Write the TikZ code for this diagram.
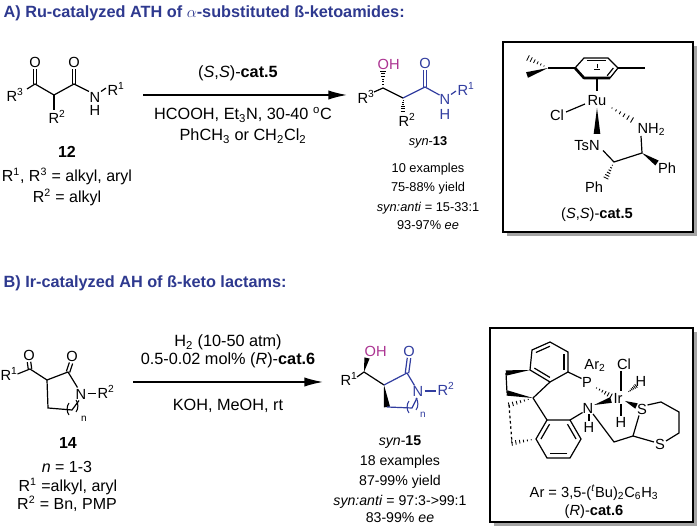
\documentclass[tikz,border=0pt]{standalone}
\usepackage{fontspec}
\setmainfont{Liberation Sans}
\usetikzlibrary{calc,arrows.meta}
\definecolor{ttl}{RGB}{46,57,143}
\definecolor{bl}{RGB}{50,62,160}
\definecolor{mg}{RGB}{172,52,146}
\definecolor{shd}{RGB}{165,165,165}
\newcommand\bw[3][2pt]{\fill (#2) -- ($(#3)!#1!90:(#2)$) -- ($(#3)!#1!-90:(#2)$) -- cycle;}
\newcommand\hw[3][2pt]{\foreach \q in {0.2,0.36,0.52,0.68,0.84,1}{\draw[line width=0.65pt] ($(#2)!\q!(#3)!{\q*#1}!90:(#2)$) -- ($(#2)!\q!(#3)!{\q*#1}!-90:(#2)$);}}
\newcommand\db[3][1.3pt]{\draw ($(#2)!#1!90:(#3)$) -- ($(#3)!#1!-90:(#2)$); \draw ($(#2)!#1!-90:(#3)$) -- ($(#3)!#1!90:(#2)$);}
\newcommand\inl[3]{\draw ($(#1)!0.22!(#3)$) -- ($(#2)!0.22!(#3)$);}
\begin{document}
\begin{tikzpicture}[x=0.75pt,y=-0.75pt,line width=0.9pt,
 every node/.style={inner sep=0pt,text height=7.9pt,text depth=0pt,font=\fontsize{11}{13}\selectfont},
 ttlst/.style={anchor=west,text=ttl,font=\fontsize{12.2}{14}\selectfont\bfseries,text height=8.7pt},
 cond/.style={font=\fontsize{12.2}{14}\selectfont,text height=8.7pt},
 lab/.style={font=\fontsize{12}{14}\selectfont,text height=8.6pt},
 bfst/.style={font=\fontsize{12}{14}\selectfont\bfseries,text height=8.6pt},
 yA/.style={font=\fontsize{9.6}{11}\selectfont,text height=6.9pt},
 yB/.style={font=\fontsize{10.6}{12}\selectfont,text height=7.6pt},
 subn/.style={font=\fontsize{7.5}{9}\selectfont,text height=5pt},
 arr/.style={line width=1.1pt,-{Latex[length=14pt,width=7pt]}},
 boxst/.style={draw,fill=white,line width=1pt},
 shadow/.style={fill=shd,draw=none}]
\useasboundingbox (0,0) rectangle (700,530);
\fill[white] (0,0) rectangle (700,530);
% titles
\node[ttlst] (tA) at (3,12) {A) Ru-catalyzed ATH of \textit{$\alpha$}-substituted ß-ketoamides:};
\node[ttlst] (tB) at (3,282) {B) Ir-catalyzed AH of ß-keto lactams:};
% 12
\coordinate (a1) at (35,84); \coordinate (a2) at (54,95); \coordinate (a3) at (74,84);
\node (a12O1) at (35,62) {O};
\node (a12O2) at (74,62) {O};
\node (a12R3) at (15,96) {R\textsuperscript{3}};
\node (a12N) at (95,97) {N};
\node (a12H) at (95,110.5) {H};
\node[anchor=west] (a12R1) at (107,90) {R\textsuperscript{1}};
\node (a12R2) at (57,118) {R\textsuperscript{2}};
\draw (27,89) -- (a1) -- (a2) -- (a3) -- (89,91.5);
\draw (101,91.5) -- (106,88);
\draw (a2) -- (54,110);
\db{a1}{35,69}
\db{a3}{74,69}
\node[bfst] (n12) at (67,152) {12};
\node[lab] (n12a) at (67,176) {R\textsuperscript{1}, R\textsuperscript{3} = alkyl, aryl};
\node[lab] (n12b) at (67,197) {R\textsuperscript{2} = alkyl};
% arrow A
\coordinate (arA1) at (143,95); \coordinate (arA2) at (347,95);
\draw[arr] (arA1) -- (arA2);
\node[cond] (cA1) at (238,72) {(\textit{S},\textit{S})-\textbf{cat.5}};
\node[cond] (cA2) at (243,114) {HCOOH, Et\textsubscript{3}N, 30-40 \textsuperscript{o}C};
\node[cond] (cA3) at (243,135) {PhCH\textsubscript{3} or CH\textsubscript{2}Cl\textsubscript{2}};
% 13
\coordinate (b1) at (383,88); \coordinate (b2) at (403,98); \coordinate (b3) at (425,87);
\node[anchor=west] (p13R3) at (357,98) {R\textsuperscript{3}};
\draw (374,92) -- (b1) -- (b2);
\hw[2pt]{b1}{383,71}
\hw[1.8pt]{b2}{403,111}
\node[anchor=west,text=mg] (p13OH) at (377,64) {OH};
\node[anchor=west] (p13R2) at (398,121) {R\textsuperscript{2}};
\begin{scope}[color=bl]
\draw (b2) -- (b3) -- (439.5,95);
\draw (451,94.5) -- (456,91);
\db{b3}{425,70}
\node (p13O) at (425,63) {O};
\node (p13N) at (445,99.5) {N};
\node (p13H) at (445,114) {H};
\node[anchor=west] (p13R1) at (457,90) {R\textsuperscript{1}};
\end{scope}
\node[yA] (s13a) at (428,141) {\textit{syn}-\textbf{13}};
\node[yA] (s13b) at (428,168) {10 examples};
\node[yA] (s13c) at (428,187) {75-88\% yield};
\node[yA] (s13d) at (428,207) {\textit{syn:anti} = 15-33:1};
\node[yA] (s13e) at (428,225) {93-97\% \textit{ee}};
% box A
\fill[shadow] (507,46) rectangle (697,236);
\draw[boxst] (503,42) rectangle (693,232);
% cat 5
\coordinate (ra) at (575,68); \coordinate (rb) at (584,58); \coordinate (rc) at (608,58);
\coordinate (rd) at (618,68); \coordinate (re) at (610,78); \coordinate (rf) at (584,78);
\coordinate (rcen) at (597,68);
\draw (ra) -- (rb) -- (rc) -- (rd) -- (re);
\draw[line width=2pt,line join=round] (ra) -- (rf) -- (re);
\inl{rb}{rc}{rcen}
\inl{re}{rd}{rcen}
\draw[line width=0.7pt] (597,64) -- (597,68);
\draw[line width=0.7pt] (594,69) -- (600,69);
\coordinate (ipr) at (548,68);
\draw (ra) -- (ipr);
\hw[2.2pt]{ipr}{528,58}
\bw[2.2pt]{ipr}{527,75}
\draw (rd) -- (645,68);
\draw (597,78) -- (597,91);
\node (ru) at (597,100) {Ru};
\node (cl5) at (557,115) {Cl};
\draw (566,112) -- (585,104);
\hw[2.2pt]{607,105}{632,120}
\node[anchor=west] (nh2) at (637,128) {NH\textsubscript{2}};
\bw[2.5pt]{597,108}{597,134}
\node (tsn) at (587,145) {TsN};
\coordinate (ca) at (614,162); \coordinate (cb) at (642,153);
\draw (603,150.5) -- (ca) -- (cb) -- (641,136);
\bw[2.2pt]{cb}{657,163}
\node (ph1) at (667,168) {Ph};
\hw[2pt]{ca}{606,178}
\node (ph2) at (594,187) {Ph};
\node (cat5) at (597,213) {(\textit{S},\textit{S})-\textbf{cat.5}};
% 14
\coordinate (d1) at (30,369); \coordinate (d3) at (47,380); \coordinate (d2) at (68,372);
\coordinate (d4) at (48,408); \coordinate (d5) at (72,410);
\node (c14O1) at (29,355) {O};
\node (c14O2) at (72,356) {O};
\node[anchor=west] (c14R1) at (0,375) {R\textsuperscript{1}};
\node (c14N) at (81,394) {N};
\node[anchor=west] (c14R2) at (97,393) {R\textsuperscript{2}};
\draw (17.5,374) -- (d1) -- (d3) -- (d2) -- (77.5,387.5);
\draw (d3) -- (d4) -- (d5) -- (79,400.5);
\draw (87.5,393.5) -- (96,393.5);
\db{d1}{29,362}
\db{d2}{71,363}
\draw[line width=0.8pt] (69,403) .. controls (66.5,406) and (66.5,412) .. (69,415);
\draw[line width=0.8pt] (76,400) .. controls (78.5,403) and (78.5,409) .. (76,412);
\node[subn] (c14n) at (84,418) {n};
\node[bfst] (n14) at (68,443) {14};
\node[lab] (n14a) at (67,467) {\textit{n} = 1-3};
\node[lab] (n14b) at (68,486) {R\textsuperscript{1} =alkyl, aryl};
\node[lab] (n14c) at (67,504) {R\textsuperscript{2} = Bn, PMP};
% arrow B
\coordinate (arB1) at (133,382); \coordinate (arB2) at (323,382);
\draw[arr] (arB1) -- (arB2);
\node[cond] (cB1) at (228,341) {H\textsubscript{2} (10-50 atm)};
\node[cond] (cB2) at (228,359) {0.5-0.02 mol\% (\textit{R})-\textbf{cat.6}};
\node[cond] (cB3) at (228,405) {KOH, MeOH, rt};
% 15
\coordinate (e1) at (364,372); \coordinate (e3) at (384,385); \coordinate (e4) at (387,407);
\coordinate (e2) at (407,373); \coordinate (e5) at (412,408);
\node[anchor=west] (p15R1) at (340,380) {R\textsuperscript{1}};
\draw (357,377) -- (e1) -- (e3);
\bw[2pt]{e1}{367,358}
\node[anchor=west,text=mg] (p15OH) at (364,351) {OH};
\bw[2.3pt]{e3}{e4}
\begin{scope}[color=bl]
\draw (e3) -- (e2) -- (414.5,385.5);
\db{e2}{409,358}
\node (p15O) at (409,351) {O};
\node (p15N) at (418,391) {N};
\draw (424.5,391) -- (436,391);
\node[anchor=west] (p15R2) at (437,390) {R\textsuperscript{2}};
\draw (e4) -- (e5) -- (417,398);
\draw[line width=0.8pt] (409,401) .. controls (406.5,404) and (406.5,410) .. (409,413);
\draw[line width=0.8pt] (416,398) .. controls (418.5,401) and (418.5,407) .. (416,410);
\node[subn] (p15n) at (423,414) {n};
\end{scope}
\node[yB] (s15a) at (400,440) {\textit{syn}-\textbf{15}};
\node[yB] (s15b) at (400,460) {18 examples};
\node[yB] (s15c) at (400,480) {87-99\% yield};
\node[yB] (s15d) at (400,500) {\textit{syn:anti} = 97:3->99:1};
\node[yB] (s15e) at (400,517) {83-99\% \textit{ee}};
% box B
\fill[shadow] (494,332) rectangle (697,526);
\draw[boxst] (490,328) rectangle (693,522);
% cat 6
\coordinate (u1) at (530,370); \coordinate (u2) at (532,350); \coordinate (u3) at (550,342);
\coordinate (u4) at (568,352); \coordinate (u5) at (568,372); \coordinate (u6) at (550,382);
\coordinate (uc) at (549.7,361.3);
\draw (u1) -- (u2) -- (u3) -- (u4) -- (u5) -- (u6) -- cycle;
\inl{u2}{u3}{uc}
\inl{u4}{u5}{uc}
\inl{u6}{u1}{uc}
\coordinate (ch2a) at (506,373); \coordinate (ch2b) at (507,393); \coordinate (sp) at (533,398);
\bw[2pt]{u1}{ch2a}
\draw (ch2a) -- (ch2b);
\bw[2pt]{sp}{ch2b}
\draw (sp) -- (u6);
\coordinate (l1) at (547,420); \coordinate (l2) at (570,420); \coordinate (l3) at (581,439);
\coordinate (l4) at (570,458); \coordinate (l5) at (547,458); \coordinate (l6) at (536,439);
\coordinate (lc) at (558.5,439);
\draw (l1) -- (l2) -- (l3) -- (l4) -- (l5) -- (l6) -- cycle;
\inl{l2}{l3}{lc}
\inl{l4}{l5}{lc}
\inl{l6}{l1}{lc}
\draw (sp) -- (l1);
\coordinate (ch2c) at (509,405); \coordinate (ch2d) at (512,443);
\hw[2pt]{sp}{ch2c}
\draw[dash pattern=on 2pt off 2pt] (ch2c) -- (ch2d);
\hw[2pt]{l6}{ch2d}
\node (p6) at (587,382) {P};
\draw (u5) -- (581.5,378.5);
\node (ar2) at (595,364) {Ar\textsubscript{2}};
\node (cl6) at (624,364) {Cl};
\node (ir) at (618,398) {Ir};
\node (h6a) at (641,381) {H};
\hw[2pt]{593,386}{611,396}
\draw[line width=0.8pt] (621,371) -- (621,391);
\hw[1.6pt]{627,393}{636,386}
\node (n6) at (588,408) {N};
\bw[2.2pt]{594,405}{611,400}
\draw (l2) -- (582.5,412.5);
\node (h6n) at (589,427) {H};
\draw[line width=0.8pt] (589,414.5) -- (589,421);
\node (h6b) at (621,422) {H};
\draw[line width=0.8pt] (621,404) -- (621,416);
\node (s6a) at (642,409) {S};
\bw[2.2pt]{625,401}{636.5,406}
\coordinate (dt2) at (633,436); \coordinate (dt6) at (661,402);
\coordinate (dt5) at (679,412); \coordinate (dt4) at (679,433);
\node (s6b) at (660,444) {S};
\draw (593,414) -- (614,442) -- (dt2);
\draw (dt2) -- (639,415.5);
\draw (647.5,405) -- (dt6) -- (dt5) -- (dt4) -- (666,441);
\draw (654,442) -- (dt2);
\node (ar6) at (594,492) {Ar = 3,5-(\textsuperscript{\textit{t}}Bu)\textsubscript{2}C\textsubscript{6}H\textsubscript{3}};
\node (cat6) at (594,510) {(\textit{R})-\textbf{cat.6}};
\end{tikzpicture}
\end{document}
